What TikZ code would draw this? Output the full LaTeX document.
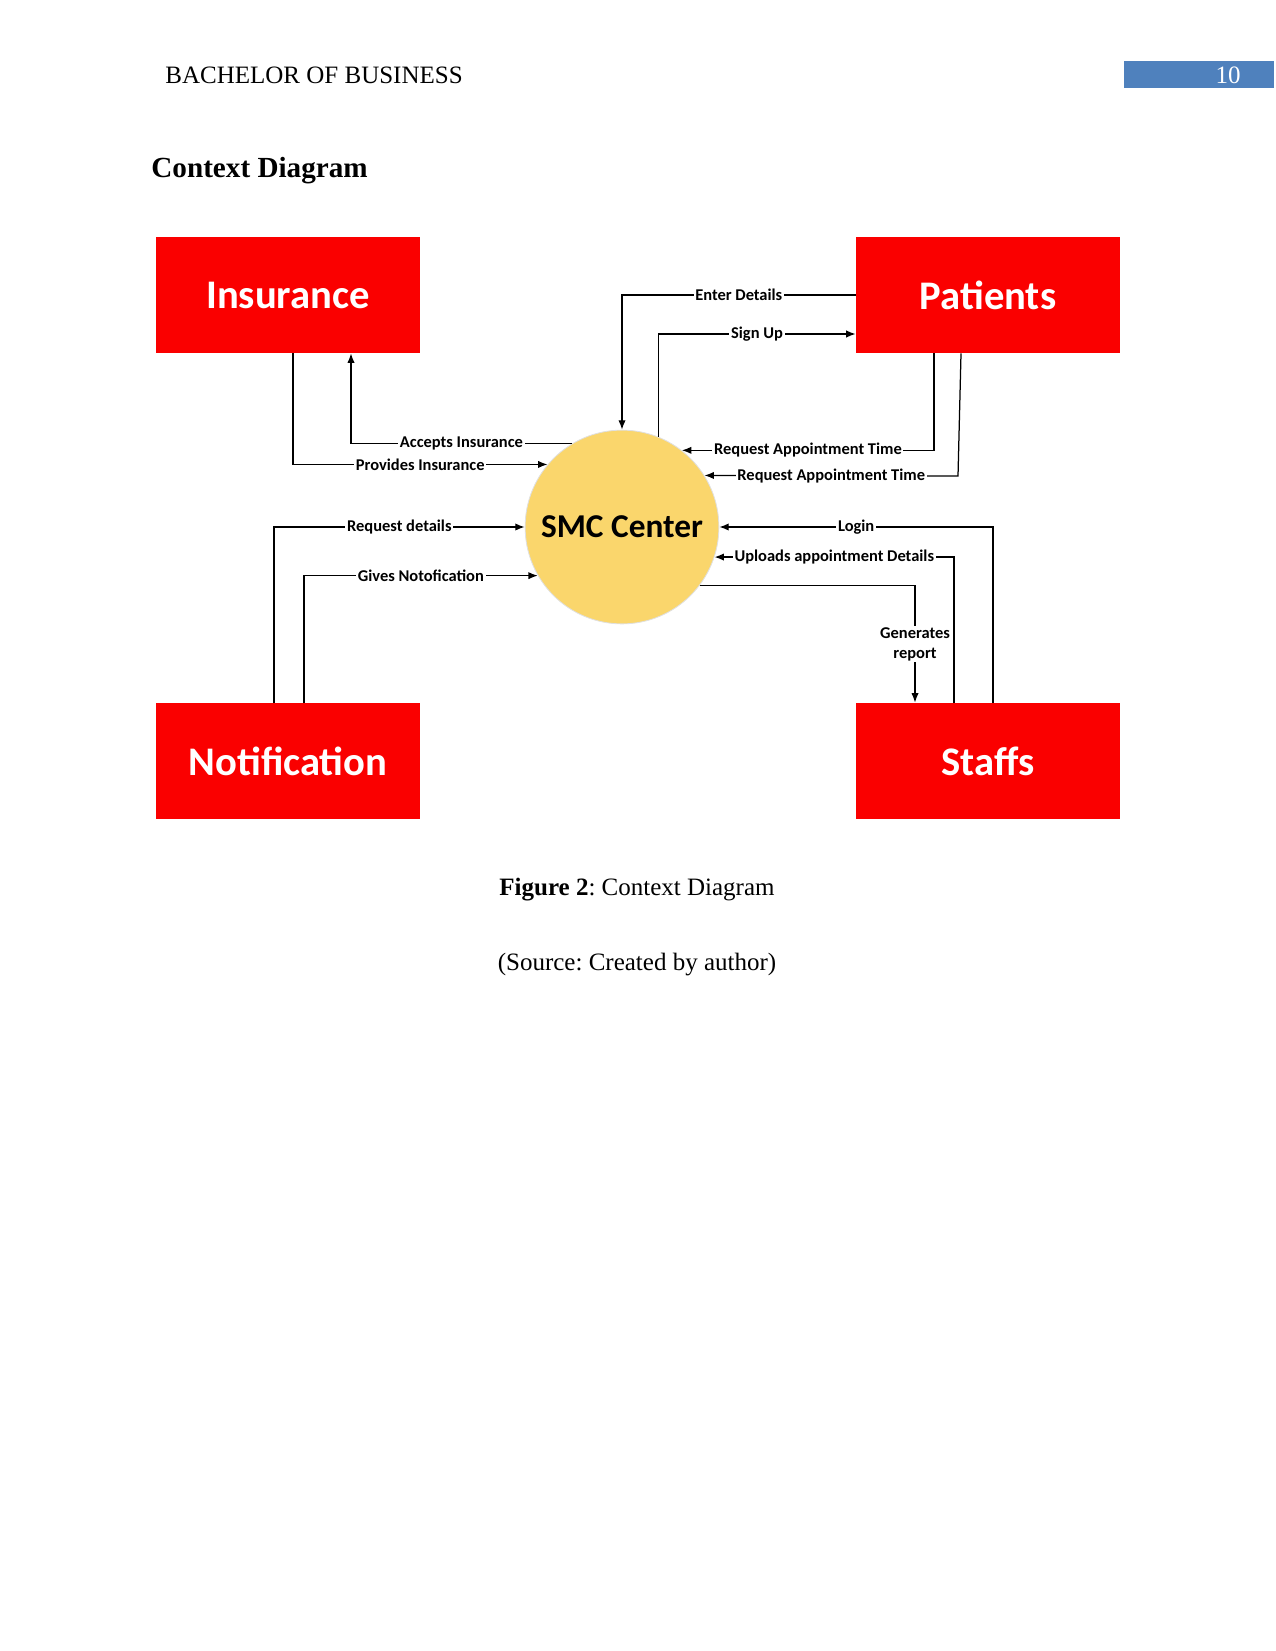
\documentclass[tikz,border=0pt]{standalone}
\usepackage{fontspec}
\setmainfont{Liberation Serif}
\newfontfamily\calibri{Carlito}
\usetikzlibrary{positioning,arrows.meta,calc}
\definecolor{boxred}{RGB}{250,0,0}
\definecolor{smcyellow}{RGB}{250,214,108}
\definecolor{pageblue}{RGB}{79,129,189}
\frenchspacing

\begin{document}
\begin{tikzpicture}[
    x=0.48pt, y=-0.48pt,
    page/.style={font=\fontsize{12}{14}\selectfont},
    block/.style={rectangle, fill=boxred, minimum width=126.7pt, minimum height=55.7pt, text=white, font=\calibri\fontsize{19.5}{22}\selectfont\bfseries},
    proc/.style={circle, fill=smcyellow, draw=black!12, minimum size=93pt, inner sep=0pt, font=\calibri\fontsize{16}{18}\selectfont\bfseries},
    flow/.style={draw, line width=0.6pt, -{Latex[length=4.5pt,width=3.5pt]}},
    lbl/.style={fill=white, inner sep=0.8pt, font=\calibri\fontsize{7.9}{9.6}\selectfont\bfseries}
  ]
  \useasboundingbox (0,0) rectangle (1275,1651);

  % page header
  \node[page, anchor=west, inner sep=0pt] (head) at (165,75) {BACHELOR OF BUSINESS};
  \node[fill=pageblue, minimum width=72pt, minimum height=13pt, inner sep=0pt] (pgbox) at (1199,74.5) {};
  \node[page, text=white] (pgnum) at (1228,75) {10};
  \node[anchor=west, inner sep=0pt, font=\bfseries\fontsize{14}{17}\selectfont] (title) at (151,171) {Context Diagram};

  % entities and process
  \node[block] (ins) at (288,295) {Insurance};
  \node[block] (pat) at (988,295) {Patients};
  \node[block] (note) at (288,761) {Notification};
  \node[block] (staff) at (988,761) {Staffs};
  \node[proc] (smc) at (622,527) {SMC Center};

  % patients
  \draw[flow] (pat.west) -| node[lbl, pos=0.25] {Enter Details} (smc.north);
  \draw[flow] (smc.68) |- node[lbl, pos=0.75] {Sign Up} (pat.west |- 0,334);
  \draw[flow] (pat.south -| 934,0) |- node[lbl, pos=0.75] {Request Appointment Time} (smc.52);
  \draw[flow] (pat.south -| 961,0) -- (958,476) -- node[lbl] {Request Appointment Time} (smc.32);

  % insurance
  \draw[flow] (smc.121) -| node[lbl, pos=0.25] {Accepts Insurance} (ins.south -| 351,0);
  \draw[flow] (ins.south -| 293,0) |- node[lbl, pos=0.75] {Provides Insurance} (smc.140);

  % notification
  \draw[flow] (note.north -| 274,0) |- node[lbl, pos=0.75] {Request details} (smc.west);
  \draw[flow] (note.north -| 304,0) |- node[lbl, pos=0.75] {Gives Notofication} (smc.210);

  % staffs
  \draw[flow] (staff.north -| 993,0) |- node[lbl, pos=0.75] {Login} (smc.east);
  \draw[flow] (staff.north -| 954,0) |- node[lbl, pos=0.75] {Uploads appointment Details} (smc.-18);
  \draw[flow] (smc.-37) -| node[lbl, pos=0.75, align=center] {Generates\\report} (staff.north -| 915,0);

  % caption
  \node[page] (cap) at (637,890) {\textbf{Figure 2}: Context Diagram};
  \node[page] (src) at (637,965) {(Source: Created by author)};
\end{tikzpicture}
\end{document}
